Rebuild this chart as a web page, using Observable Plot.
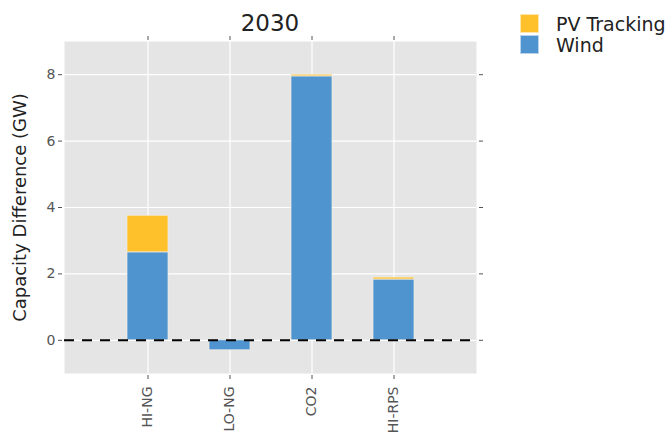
<!DOCTYPE html>
<html>
<head>
<meta charset="utf-8">
<script src="https://cdn.jsdelivr.net/npm/d3@7"></script>
<script src="https://cdn.jsdelivr.net/npm/@observablehq/plot@0.6"></script>
<style>
  html, body { margin: 0; padding: 0; background: #fff; }
  #wrap { position: relative; width: 668px; height: 435px; font-family: "DejaVu Sans", sans-serif; overflow: hidden; }
  #title { position: absolute; left: 64px; width: 412px; top: 10px; text-align: center; font-size: 23px; color: #222; }
  #legend { position: absolute; left: 520px; top: 13px; font-size: 19px; color: #222; }
  .item { display: flex; align-items: center; height: 21px; }
  .sw { width: 19px; height: 19px; margin-right: 17px; box-sizing: border-box; border: 1px solid rgba(255,255,255,0.6); }
  #chart { position: absolute; left: 0; top: 0; }
</style>
</head>
<body>
<div id="wrap">
  <div id="chart"></div>
  <div id="title"></div>
  <div id="legend"></div>
</div>
<script>
const titleText = "2030";
const categories = ["HI-NG", "LO-NG", "CO2", "HI-RPS"];
const seriesNames = ["Wind", "PV Tracking"];
const windValues = [2.65, -0.30, 7.95, 1.83];
const pvValues = [1.10, 0.00, 0.05, 0.06];
const colors = { "Wind": "#4f94cf", "PV Tracking": "#fec02b" };
const yTicks = [0, 2, 4, 6, 8];
const yLabel = "Capacity Difference (GW)";

const data = [];
categories.forEach((c, i) => data.push({ cat: c, series: "Wind", value: windValues[i] }));
categories.forEach((c, i) => data.push({ cat: c, series: "PV Tracking", value: pvValues[i] }));

const tickColor = "#555";
const blank = () => "";

const chart = Plot.plot({
  width: 668,
  height: 435,
  marginLeft: 64,
  marginRight: 192,
  marginTop: 41,
  marginBottom: 62,
  style: { fontFamily: "DejaVu Sans, sans-serif", background: "transparent", overflow: "visible" },
  x: { domain: categories, paddingInner: 0.5, paddingOuter: 0.75, label: null },
  y: { domain: [-1, 9], label: null },
  color: { domain: seriesNames, range: seriesNames.map(s => colors[s]) },
  marks: [
    Plot.frame({ fill: "#e5e5e5", stroke: null }),
    Plot.gridY(yTicks, { stroke: "#fff", strokeOpacity: 1, strokeWidth: 1.2 }),
    Plot.gridX({ stroke: "#fff", strokeOpacity: 1, strokeWidth: 1.2 }),
    Plot.barY(data, Plot.stackY({ x: "cat", y: "value", fill: "series", stroke: "#f4f0e6", strokeWidth: 1, strokeOpacity: 0.7 })),
    Plot.ruleY([0], { stroke: "#000", strokeWidth: 2, strokeDasharray: "10,8" }),
    Plot.axisY(yTicks, { anchor: "left", tickSize: 4, dx: -2, tickPadding: 3, fontSize: 14, color: tickColor, stroke: tickColor, label: null }),
    Plot.axisY(yTicks, { anchor: "right", tickSize: 4, dx: 2, tickFormat: blank, stroke: tickColor, label: null }),
    Plot.axisX({ anchor: "bottom", tickSize: 4, dy: 2, tickPadding: 7, tickRotate: -90, fontSize: 14, color: tickColor, stroke: tickColor, label: null }),
    Plot.axisX({ anchor: "top", tickSize: 4, dy: -2, tickFormat: blank, stroke: tickColor, label: null }),
    Plot.text([yLabel], { frameAnchor: "left", dx: -44, rotate: -90, fontSize: 18, fill: "#222", textAnchor: "middle" })
  ]
});
document.getElementById("chart").appendChild(chart);
document.getElementById("title").textContent = titleText;

const legend = document.getElementById("legend");
["PV Tracking", "Wind"].forEach(s => {
  const it = document.createElement("div");
  it.className = "item";
  const sw = document.createElement("div");
  sw.className = "sw";
  sw.style.background = colors[s];
  const t = document.createElement("span");
  t.textContent = s;
  it.appendChild(sw); it.appendChild(t);
  legend.appendChild(it);
});
</script>
</body>
</html>
